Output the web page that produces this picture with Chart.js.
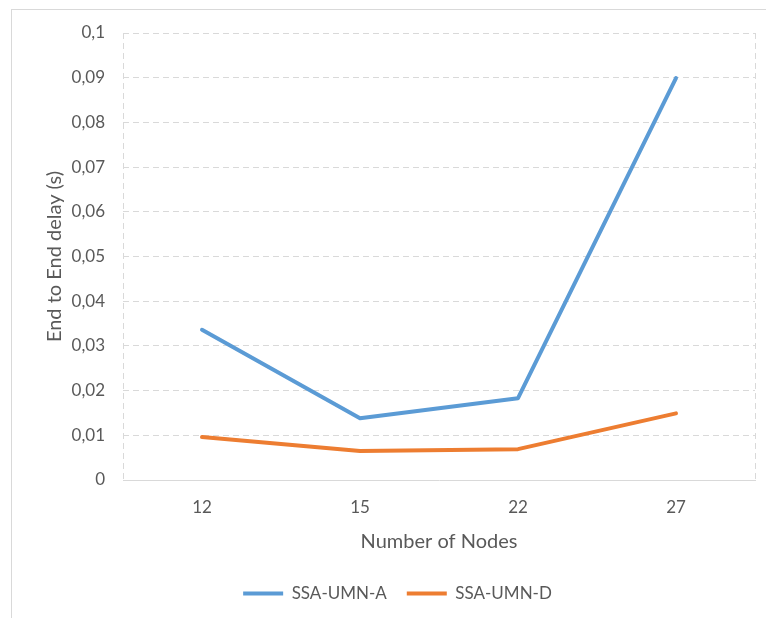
<!DOCTYPE html>
<html>
<head>
<meta charset="utf-8">
<script src="https://cdn.jsdelivr.net/npm/chart.js@4"></script>
<style>
  html, body { margin: 0; padding: 0; background: #fff; overflow: hidden; }
  #wrap { position: relative; width: 766px; height: 618px; }
  #frame { position: absolute; left: 11px; top: 9px; width: 800px; height: 700px; border: 1px solid #d9d9d9; }
  canvas { position: absolute; left: 0; top: 0; }
</style>
</head>
<body>
<div id="wrap">
  <div id="frame"></div>
  <canvas id="chart" width="766" height="618"></canvas>
</div>
<script>
// number of nodes on the x axis
const nodes = ['12', '15', '22', '27'];
// end to end delay in seconds
const ssaUmnA = [0.0336, 0.0138, 0.0183, 0.0899];
const ssaUmnD = [0.0096, 0.0065, 0.0069, 0.0149];

const gridColor = '#d9d9d9';
const textColor = '#595959';
const fontFamily = 'Lato, "Open Sans", sans-serif';

const ctx = document.getElementById('chart').getContext('2d');
new Chart(ctx, {
  type: 'line',
  data: {
    labels: nodes,
    datasets: [
      {
        label: 'SSA-UMN-A',
        data: ssaUmnA,
        borderColor: '#5b9bd5',
        backgroundColor: '#5b9bd5',
        borderWidth: 4,
        borderCapStyle: 'round',
        borderJoinStyle: 'round',
        pointRadius: 0,
        tension: 0,
      },
      {
        label: 'SSA-UMN-D',
        data: ssaUmnD,
        borderColor: '#ed7d31',
        backgroundColor: '#ed7d31',
        borderWidth: 4,
        borderCapStyle: 'round',
        borderJoinStyle: 'round',
        pointRadius: 0,
        tension: 0,
      },
    ],
  },
  options: {
    responsive: false,
    animation: false,
    layout: { padding: { left: 40, right: 11, top: 33, bottom: 6 } },
    plugins: {
      tooltip: { enabled: false },
      legend: {
        position: 'bottom',
        labels: {
          usePointStyle: true,
          pointStyle: 'line',
          pointStyleWidth: 40,
          padding: 20,
          color: textColor,
          font: { family: fontFamily, size: 17 },
        },
      },
    },
    scales: {
      x: {
        offset: true,
        // fixed axis height so the plot bottom sits where it should
        afterFit: (scale) => { scale.height = 85; },
        grid: {
          offset: true,
          drawTicks: false,
          // only the two outer edges of the plot get a vertical line
          color: (c) => (c.index === 0 || c.index === undefined ? gridColor : 'rgba(0,0,0,0)'),
        },
        border: { display: true, color: gridColor, width: 1, dash: [6, 4] },
        ticks: { color: textColor, padding: 17, font: { family: fontFamily, size: 17 } },
        title: {
          display: true,
          text: 'Number of Nodes',
          color: textColor,
          padding: { top: 12, bottom: 11 },
          font: { family: fontFamily, size: 20 },
        },
      },
      y: {
        min: 0,
        max: 0.1,
        afterFit: (scale) => { scale.width = 83; },
        grid: { color: gridColor, drawTicks: false },
        border: { display: false, dash: [6, 4] },
        ticks: {
          stepSize: 0.01,
          color: textColor,
          padding: 18,
          font: { family: fontFamily, size: 17 },
          callback: (v) => String(Number(v.toFixed(2))).replace('.', ','),
        },
        title: {
          display: true,
          text: 'End to End delay (s)',
          color: textColor,
          padding: { top: 3, bottom: 0 },
          font: { family: fontFamily, size: 20 },
        },
      },
    },
  },
});
</script>
</body>
</html>
